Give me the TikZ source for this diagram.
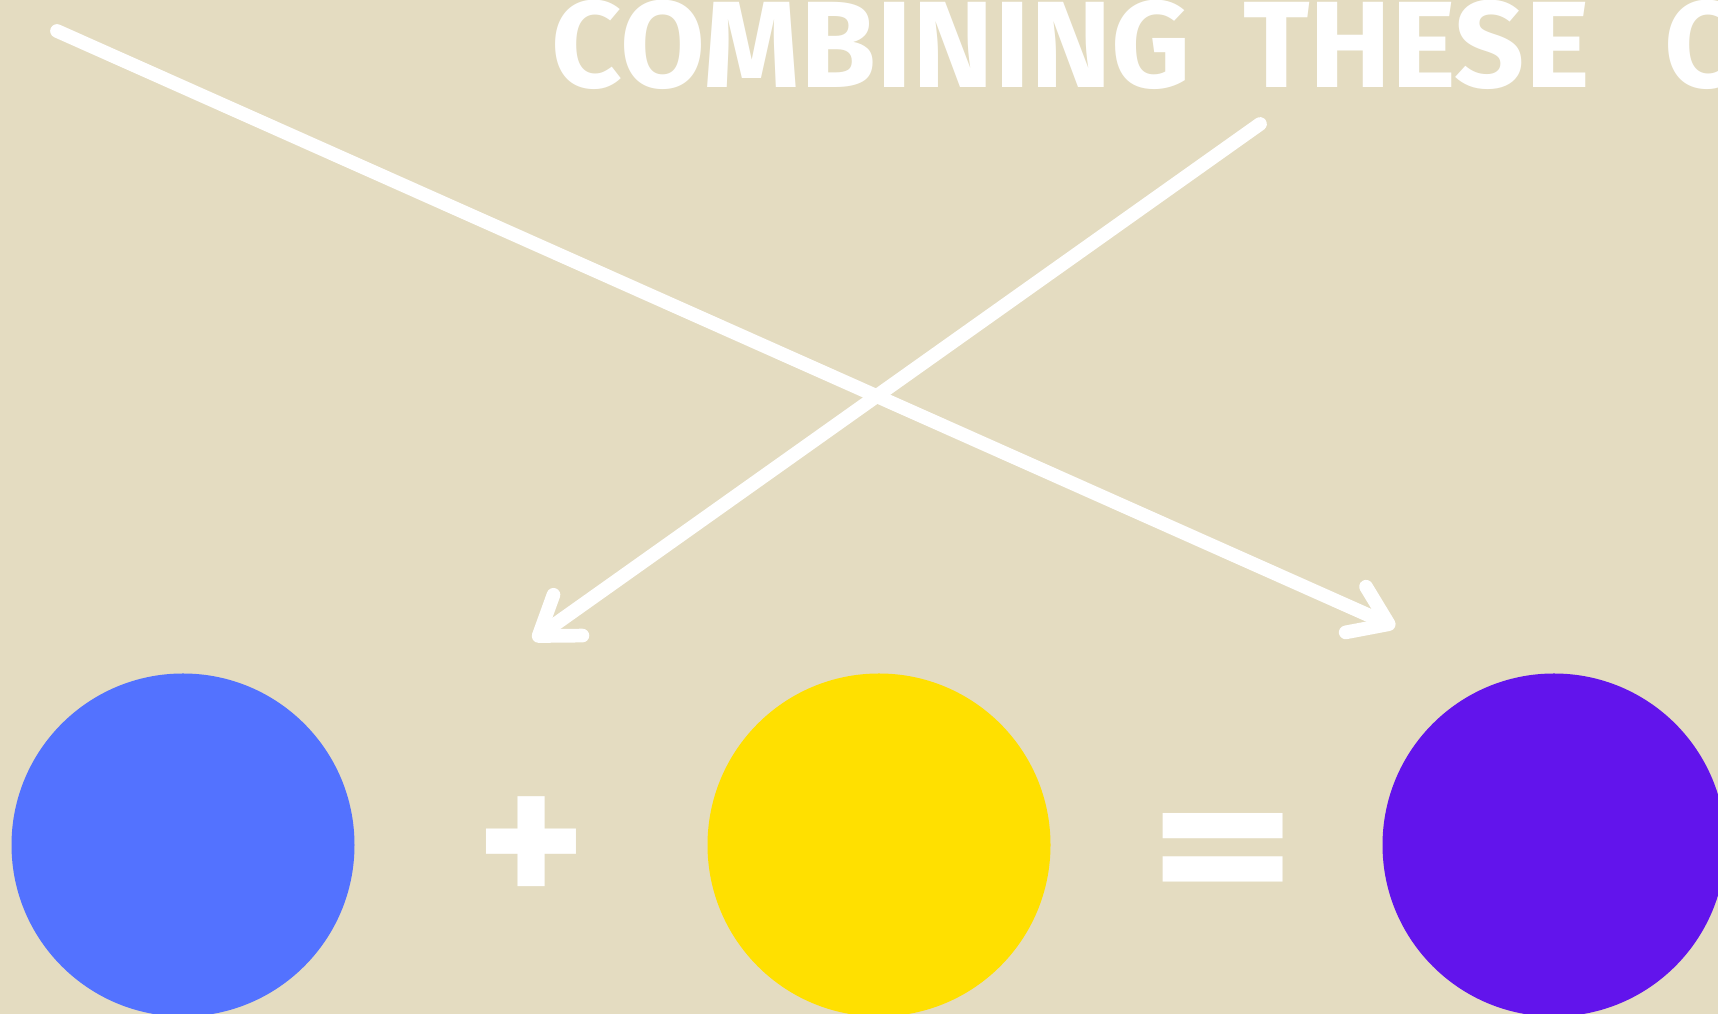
\documentclass[tikz,border=0pt]{standalone}
\usepackage{fontspec}
\setmainfont{Fira Sans}
\usepackage{tikz}
\usetikzlibrary{arrows.meta}
\definecolor{paperbg}{HTML}{E4DCC1}
\definecolor{paintblue}{HTML}{5372FF}
\definecolor{paintyellow}{HTML}{FFE000}
\definecolor{paintviolet}{HTML}{6214EC}
\tikzset{
  blob/.style={circle,inner sep=0pt,minimum size=3.43cm},
  crossarrow/.style={-{Straight Barb[length=3.6mm,width=5mm,round]},line width=3.9pt,draw=white,line cap=round},
  mathsign/.style={text=white,font=\fontsize{59}{59}\selectfont\bfseries,inner sep=0pt},
  titletext/.style={text=white,font=\fontsize{35}{35}\selectfont\bfseries,inner sep=0pt,anchor=base west}
}

\begin{document}
\begin{tikzpicture}
\clip (0,0) rectangle (17.18,10.14);
\fill[paperbg] (0,0) rectangle (17.18,10.14);
\node[titletext] (title) at (5.51,9.26) {COMBINING\hspace{0.23cm} THESE\hspace{0.45cm} C};
\coordinate (a1s) at (0.57,9.83);
\coordinate (a1e) at (13.95,3.87);
\coordinate (a2s) at (12.60,8.90);
\coordinate (a2e) at (5.33,3.74);
\draw[crossarrow] (a1s) -- (a1e);
\draw[crossarrow] (a2s) -- (a2e);
\node[blob,fill=paintblue] (blue) at (1.83,1.69) {};
\node[blob,fill=paintyellow] (yellow) at (8.79,1.69) {};
\node[blob,fill=paintviolet] (violet) at (15.54,1.69) {};
\node[mathsign] (plus) at (5.32,1.60) {+};
\node[mathsign] (equals) at (12.23,1.49) {\scalebox{1.37}[1]{=}};
\end{tikzpicture}
\end{document}
